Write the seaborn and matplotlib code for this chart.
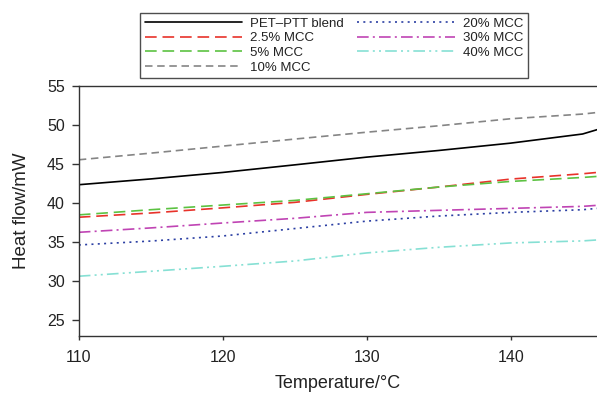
import matplotlib
matplotlib.use("Agg")
import matplotlib.pyplot as plt
import seaborn as sns
import pandas as pd

# Temperature samples (°C)
temperature = [110, 115, 120, 125, 130, 135, 140, 145, 146]

# Heat flow (mW) for each sample
pet_ptt_blend = [42.36, 43.10, 43.93, 44.90, 45.89, 46.74, 47.68, 48.85, 49.40]
mcc_2_5 = [38.20, 38.74, 39.40, 40.10, 41.12, 42.06, 43.08, 43.76, 43.93]
mcc_5 = [38.50, 39.16, 39.76, 40.35, 41.20, 42.06, 42.78, 43.29, 43.42]
mcc_10 = [45.55, 46.40, 47.30, 48.20, 49.08, 49.90, 50.80, 51.40, 51.60]
mcc_20 = [34.65, 35.15, 35.80, 36.75, 37.70, 38.35, 38.82, 39.16, 39.33]
mcc_30 = [36.27, 36.83, 37.46, 38.06, 38.82, 39.08, 39.33, 39.59, 39.72]
mcc_40 = [30.65, 31.28, 31.92, 32.60, 33.63, 34.35, 34.91, 35.17, 35.29]

labels = ["PET\u2013PTT blend", "2.5% MCC", "5% MCC", "10% MCC",
          "20% MCC", "30% MCC", "40% MCC"]
series = [pet_ptt_blend, mcc_2_5, mcc_5, mcc_10, mcc_20, mcc_30, mcc_40]

colors = ["#000000", "#e8322a", "#5cc242", "#858585",
          "#2b3fa3", "#c044b4", "#86e0d4"]
dash_styles = [
    None,
    (7, 3.5),
    (7, 3.5),
    (4.5, 2.8),
    (1.2, 2.6),
    (7, 2.5, 1.2, 2.5),
    (7, 2.5, 1.2, 2.5, 1.2, 2.5),
]

sns.set_theme(style="white")
plt.rcParams["font.family"] = ["Liberation Sans", "DejaVu Sans"]

fig = plt.figure(figsize=(5.97, 3.96), dpi=100)
ax = fig.add_axes([0.132, 0.1515, 0.868, 0.6315])

for vals, lab, col, dsh in zip(series, labels, colors, dash_styles):
    df = pd.DataFrame({"Temperature": temperature, "Heat flow": vals})
    sns.lineplot(data=df, x="Temperature", y="Heat flow", color=col,
                 label=lab, linewidth=1.2, ax=ax)
    if dsh is not None:
        ax.lines[-1].set_dashes(dsh)

ax.set_xlim(110, 146)
ax.set_ylim(23, 55)
ax.set_xticks([110, 120, 130, 140])
ax.set_yticks([25, 30, 35, 40, 45, 50, 55])

for side in ["left", "bottom", "top"]:
    ax.spines[side].set_visible(True)
    ax.spines[side].set_color("#333333")
    ax.spines[side].set_linewidth(1.0)
ax.spines["right"].set_visible(False)

ax.tick_params(axis="y", which="major", direction="out", length=5,
               width=1.0, color="#333333", labelsize=11.5, pad=5,
               left=True, labelcolor="#222222")
ax.tick_params(axis="x", which="major", direction="out", length=3,
               width=1.0, color="#333333", labelsize=11.5, pad=7,
               bottom=True, labelcolor="#222222")

ax.set_xlabel("Temperature/\u00b0C", fontsize=13, color="#222222", labelpad=7)
ax.set_ylabel("Heat flow/mW", fontsize=13.5, color="#222222", labelpad=12)

# Legend boxed above the plotting area, two columns
handles, labs = ax.get_legend_handles_labels()
for h, dsh in zip(handles, dash_styles):
    if dsh is not None:
        h.set_dashes(dsh)
leg = ax.legend(handles, labs, ncol=2, loc="upper left",
                bbox_to_anchor=(140 / 597, 1 - 13 / 396),
                bbox_transform=fig.transFigure,
                fontsize=9.5, frameon=True, fancybox=False, shadow=False,
                handlelength=7.4, handletextpad=0.6, columnspacing=1.0,
                labelspacing=0.18, borderpad=0.35, borderaxespad=0.0)
leg.get_frame().set_edgecolor("#222222")
leg.get_frame().set_linewidth(1.0)
for t in leg.get_texts():
    t.set_color("#222222")

fig.savefig("out.png", dpi=100)
